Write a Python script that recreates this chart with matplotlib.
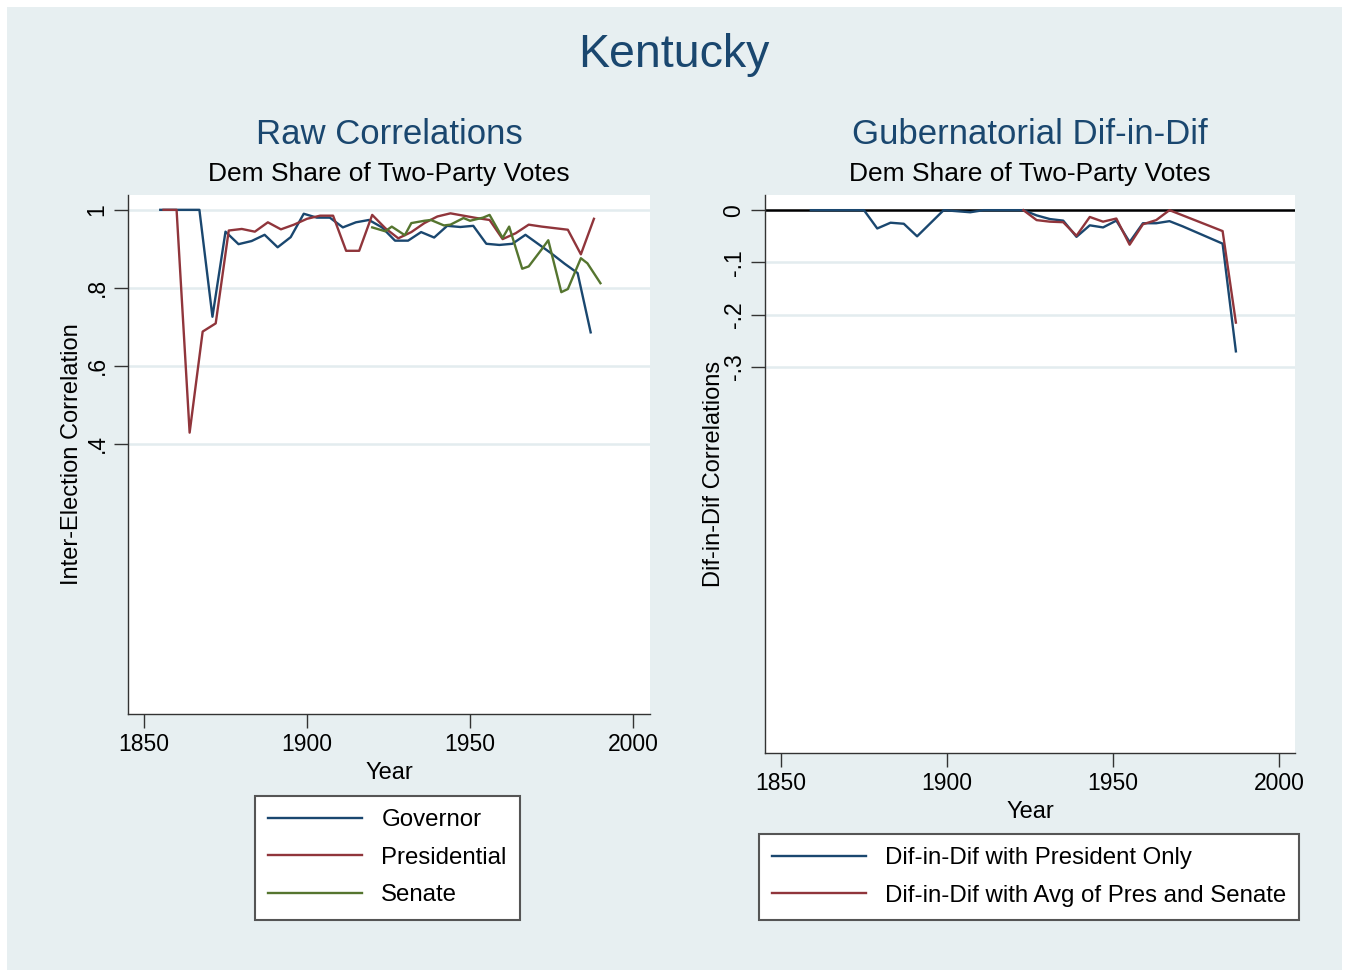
import matplotlib
matplotlib.use('Agg')
import matplotlib.pyplot as plt
import matplotlib.patches as mpatches

plt.rcParams['font.family'] = ['Liberation Sans', 'DejaVu Sans']

# --- data: raw inter-election correlations ---
gov_years = [1855, 1859, 1863, 1867, 1871, 1875, 1879, 1883, 1887, 1891, 1895, 1899,
             1903, 1907, 1911, 1915, 1919, 1923, 1927, 1931, 1935, 1939, 1943, 1947,
             1951, 1955, 1959, 1963, 1967, 1971, 1975, 1979, 1983, 1987]
gov_corr = [1.0, 1.0, 1.0, 1.0, 0.726, 0.944, 0.912, 0.92, 0.936, 0.904, 0.93, 0.99,
            0.98, 0.98, 0.955, 0.968, 0.974, 0.955, 0.921, 0.921, 0.943, 0.929, 0.959, 0.956,
            0.959, 0.913, 0.910, 0.913, 0.936, 0.912, 0.888, 0.862, 0.838, 0.686]

pres_years = [1856, 1860, 1864, 1868, 1872, 1876, 1880, 1884, 1888, 1892, 1896, 1900,
              1904, 1908, 1912, 1916, 1920, 1924, 1928, 1932, 1936, 1940, 1944, 1948,
              1952, 1956, 1960, 1964, 1968, 1972, 1976, 1980, 1984, 1988]
pres_corr = [1.0, 1.0, 0.429, 0.688, 0.709, 0.947, 0.951, 0.944, 0.968, 0.95, 0.962, 0.977,
             0.985, 0.985, 0.895, 0.895, 0.987, 0.953, 0.927, 0.943, 0.966, 0.983, 0.991, 0.985,
             0.979, 0.974, 0.925, 0.94, 0.962, 0.957, 0.953, 0.949, 0.886, 0.977]

sen_years = [1920, 1924, 1926, 1930, 1932, 1936, 1938, 1942, 1944, 1948, 1950, 1954,
             1956, 1960, 1962, 1966, 1968, 1972, 1974, 1978, 1980, 1984, 1986, 1990]
sen_corr = [0.955, 0.945, 0.957, 0.935, 0.966, 0.972, 0.974, 0.96, 0.962, 0.979, 0.972, 0.98,
            0.987, 0.928, 0.957, 0.849, 0.855, 0.899, 0.922, 0.789, 0.797, 0.876, 0.863, 0.812]

# --- data: gubernatorial dif-in-dif ---
did_pres_years = [1859, 1863, 1867, 1871, 1875, 1879, 1883, 1887, 1891, 1895, 1899, 1903,
                  1907, 1911, 1915, 1919, 1923, 1927, 1931, 1935, 1939, 1943, 1947, 1951,
                  1955, 1959, 1963, 1967, 1971, 1975, 1979, 1983, 1987]
did_pres = [0.0, 0.0, 0.0, 0.0, 0.0, -0.035, -0.024, -0.026, -0.05, -0.025, 0.0, -0.002,
            -0.004, 0.0, 0.0, 0.0, 0.0, -0.01, -0.017, -0.02, -0.051, -0.029, -0.033, -0.02,
            -0.061, -0.025, -0.025, -0.021, -0.031, -0.042, -0.053, -0.064, -0.270]

did_avg_years = [1923, 1927, 1931, 1935, 1939, 1943, 1947, 1951, 1955, 1959, 1963, 1967,
                 1971, 1975, 1979, 1983, 1987]
did_avg = [0.0, -0.019, -0.022, -0.023, -0.049, -0.013, -0.022, -0.016, -0.066, -0.027,
           -0.019, 0.0, -0.01, -0.02, -0.03, -0.04, -0.215]

# Stata s2color look
NAVY = '#1a476f'
MAROON = '#90353b'
GREEN = '#55752f'
BG = '#e7eff1'
GRID = '#e3ecef'
SPINE = '#333333'

fig = plt.figure(figsize=(13.48, 9.72), dpi=100, facecolor='white')
fig.patches.append(mpatches.Rectangle((7 / 1348, 2 / 972), 1335 / 1348, 963 / 972,
                                      transform=fig.transFigure, facecolor=BG,
                                      edgecolor='none', zorder=-10))


def style_axes(ax, yticks, yticklabels):
    ax.set_facecolor('white')
    for s in ['top', 'right']:
        ax.spines[s].set_visible(False)
    for s in ['left', 'bottom']:
        ax.spines[s].set_color(SPINE)
        ax.spines[s].set_linewidth(1.0)
    ax.set_xticks([1850, 1900, 1950, 2000])
    ax.set_yticks(yticks)
    ax.set_yticklabels(yticklabels, rotation=90, va='center')
    ax.tick_params(axis='both', direction='out', length=10, width=1.0,
                   color=SPINE, labelsize=16.5, pad=4)
    for y in yticks:
        ax.axhline(y, color=GRID, linewidth=1.8, zorder=0)


# Left panel: raw correlations
ax1 = fig.add_axes([128 / 1348, 1 - 714 / 972, 522 / 1348, 519 / 972])
style_axes(ax1, [0.4, 0.6, 0.8, 1.0], ['.4', '.6', '.8', '1'])
ax1.plot(gov_years, gov_corr, color=NAVY, lw=1.7, label='Governor', zorder=3)
ax1.plot(pres_years, pres_corr, color=MAROON, lw=1.7, label='Presidential', zorder=3)
ax1.plot(sen_years, sen_corr, color=GREEN, lw=1.7, label='Senate', zorder=3)
ax1.set_xlim(1845.1, 2005.2)
ax1.set_ylim(-0.292, 1.038)
ax1.set_xlabel('Year', fontsize=17, labelpad=4)
ax1.set_ylabel('Inter-Election Correlation', fontsize=17, labelpad=2)

# Right panel: dif-in-dif
ax2 = fig.add_axes([765 / 1348, 1 - 753 / 972, 530 / 1348, 558 / 972])
style_axes(ax2, [-0.3, -0.2, -0.1, 0.0], ['-.3', '-.2', '-.1', '0'])
ax2.axhline(0, color='black', linewidth=1.8, zorder=1)
ax2.plot(did_pres_years, did_pres, color=NAVY, lw=1.7,
         label='Dif-in-Dif with President Only', zorder=3)
ax2.plot(did_avg_years, did_avg, color=MAROON, lw=1.7,
         label='Dif-in-Dif with Avg of Pres and Senate', zorder=3)
ax2.set_xlim(1845.2, 2004.8)
ax2.set_ylim(-1.038, 0.029)
ax2.set_xlabel('Year', fontsize=17, labelpad=4)
ax2.set_ylabel('Dif-in-Dif Correlations', fontsize=17, labelpad=-2)

# Titles
fig.text(0.5, 1 - 55 / 972, 'Kentucky', ha='center', va='center',
         fontsize=33.5, color=NAVY)
fig.text(389 / 1348, 1 - 134 / 972, 'Raw Correlations', ha='center', va='center',
         fontsize=25, color=NAVY)
fig.text(389 / 1348, 1 - 174 / 972, 'Dem Share of Two-Party Votes', ha='center',
         va='center', fontsize=19, color='black')
fig.text(1030 / 1348, 1 - 134 / 972, 'Gubernatorial Dif-in-Dif', ha='center',
         va='center', fontsize=25, color=NAVY)
fig.text(1030 / 1348, 1 - 174 / 972, 'Dem Share of Two-Party Votes', ha='center',
         va='center', fontsize=19, color='black')

# Legends
leg_kw = dict(fontsize=17.3, handlelength=3.9, handletextpad=0.8, labelspacing=0.65,
              fancybox=False, framealpha=1.0, edgecolor='#555555',
              borderpad=0.55, borderaxespad=0)
leg1 = ax1.legend(loc='upper center', bbox_to_anchor=(387.5 / 1348, 1 - 796 / 972),
                  bbox_transform=fig.transFigure, **leg_kw)
leg2 = ax2.legend(loc='upper center', bbox_to_anchor=(1029 / 1348, 1 - 834 / 972),
                  bbox_transform=fig.transFigure, **leg_kw)
for leg in (leg1, leg2):
    leg.get_frame().set_linewidth(1.5)

fig.savefig('out.png', dpi=100, facecolor='white')
plt.close(fig)
